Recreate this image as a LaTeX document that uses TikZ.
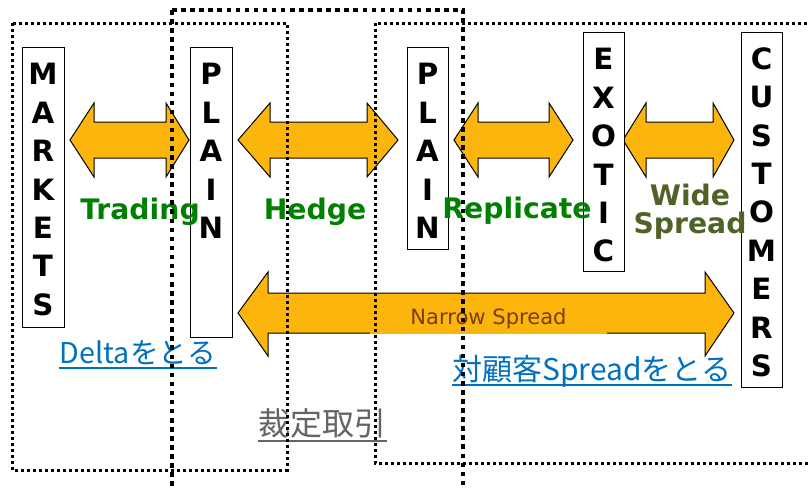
\documentclass[tikz,border=0pt]{standalone}
\usepackage{fontspec}
\setmainfont{DejaVu Sans}
\newfontfamily\jpfont{Noto Sans CJK JP}

\definecolor{arroworange}{RGB}{252,181,13}
\definecolor{flowgreen}{RGB}{0,128,0}
\definecolor{olivegreen}{RGB}{79,98,40}
\definecolor{linkblue}{RGB}{0,112,192}
\definecolor{arbgray}{RGB}{100,100,100}
\definecolor{narrowbrown}{RGB}{124,62,0}

\tikzset{every picture/.style={line width=0.75pt}}
\tikzset{
  blockarrow/.style={draw=black, fill=arroworange},
  letterbox/.style={draw=black, fill=white},
  boxletters/.style={anchor=north, inner sep=0pt, align=center, font=\bfseries\fontsize{22pt}{28.8pt}\selectfont},
  flowlabel/.style={anchor=base, inner sep=0pt, text=flowgreen, font=\bfseries\fontsize{21.2pt}{21pt}\selectfont},
  linklabel/.style={anchor=base, inner sep=0pt, text depth=3pt, font=\jpfont\fontsize{21.5pt}{22pt}\selectfont},
  thindots/.style={line width=2.25pt, dash pattern={on 2.25pt off 2.25pt}},
  thickdots/.style={line width=3.3pt, dash pattern={on 3.4pt off 3.4pt}},
}

\begin{document}
\begin{tikzpicture}[x=0.75pt,y=0.75pt,yscale=-1,xscale=1]
\useasboundingbox (0,0) rectangle (809,489);

%Shape: Double Arrow (Trading)
\draw [blockarrow] (70,140) -- (94,103) -- (94,122) -- (166,122) -- (166,103) -- (189,140) -- (166,177) -- (166,158) -- (94,158) -- (94,177) -- cycle ;
%Shape: Double Arrow (Hedge)
\draw [blockarrow] (238,140) -- (270,103) -- (270,122) -- (367,122) -- (367,103) -- (398,140) -- (367,177) -- (367,158) -- (270,158) -- (270,177) -- cycle ;
%Shape: Double Arrow (Replicate)
\draw [blockarrow] (454,140) -- (478,103) -- (478,122) -- (549,122) -- (549,103) -- (573,140) -- (549,177) -- (549,158) -- (478,158) -- (478,177) -- cycle ;
%Shape: Double Arrow (Wide Spread)
\draw [blockarrow] (623,140) -- (646,103) -- (646,122) -- (713,122) -- (713,103) -- (734,140) -- (713,177) -- (713,158) -- (646,158) -- (646,177) -- cycle ;
%Shape: Double Arrow (Narrow Spread)
\draw [blockarrow] (238,313) -- (268,272) -- (268,293) -- (705,293) -- (705,272) -- (734,313) -- (705,356) -- (705,333) -- (268,333) -- (268,356) -- cycle ;

%Shape: Rectangle
\draw [letterbox] (22,47) rectangle (64,327) ;
%Shape: Rectangle
\draw [letterbox] (190,47) rectangle (232,337) ;
%Shape: Rectangle
\draw [letterbox] (407,47) rectangle (448,249) ;
%Shape: Rectangle
\draw [letterbox] (583,32) rectangle (624,271) ;
%Shape: Rectangle
\draw [letterbox] (741,32) rectangle (782,387) ;

% Text Node
\node [boxletters] (markets) at (43,63) {M\\A\\R\\K\\E\\T\\S};
% Text Node
\node [boxletters] (plainA) at (211,63) {P\\L\\A\\I\\N};
% Text Node
\node [boxletters] (plainB) at (427.5,63) {P\\L\\A\\I\\N};
% Text Node
\node [boxletters] (exotic) at (603.5,48) {E\\X\\O\\T\\I\\C};
% Text Node
\node [boxletters] (customers) at (761.5,47) {C\\U\\S\\T\\O\\M\\E\\R\\S};

% Text Node
\node [anchor=center, inner sep=0pt, fill=arroworange, minimum width=177.75pt, minimum height=28.5pt, text height=13.5pt, text depth=0pt, text=narrowbrown, font=\fontsize{15.8pt}{16pt}\selectfont] (narrow) at (488.5,315) {Narrow Spread};

% Text Node
\node [flowlabel] (trading) at (140,219) {Trading};
% Text Node
\node [flowlabel] (hedge) at (315,219) {Hedge};
% Text Node
\node [flowlabel] (replicate) at (517,218) {Replicate};
% Text Node
\node [flowlabel, anchor=north, align=center, text=olivegreen, font=\bfseries\fontsize{21.2pt}{21pt}\selectfont] (widespread) at (690,184) {Wide\\Spread};

% Text Node
\node [linklabel, text=linkblue] (delta) at (138,363) {Deltaをとる};
\draw [linkblue, line width=1.5pt] (delta.south west) -- (delta.south east) ;
% Text Node
\node [linklabel, text=linkblue, font=\jpfont\fontsize{22.5pt}{23pt}\selectfont] (custspread) at (592,380) {対顧客Spreadをとる};
\draw [linkblue, line width=1.5pt] (custspread.south west) -- (custspread.south east) ;
% Text Node
\node [linklabel, text=arbgray, text depth=4pt, font=\jpfont\fontsize{24pt}{24pt}\selectfont] (arbitrage) at (322,435) {裁定取引};
\draw [arbgray, line width=1.5pt] (arbitrage.south west) -- (arbitrage.south east) ;

%Shape: Rectangle [dotted frames]
\draw [thindots] (12,23) rectangle (287,470) ;
\draw [thindots] (375,23) rectangle (820,463) ;
\draw [thickdots] (172,10) rectangle (463,492) ;

\end{tikzpicture}
\end{document}
